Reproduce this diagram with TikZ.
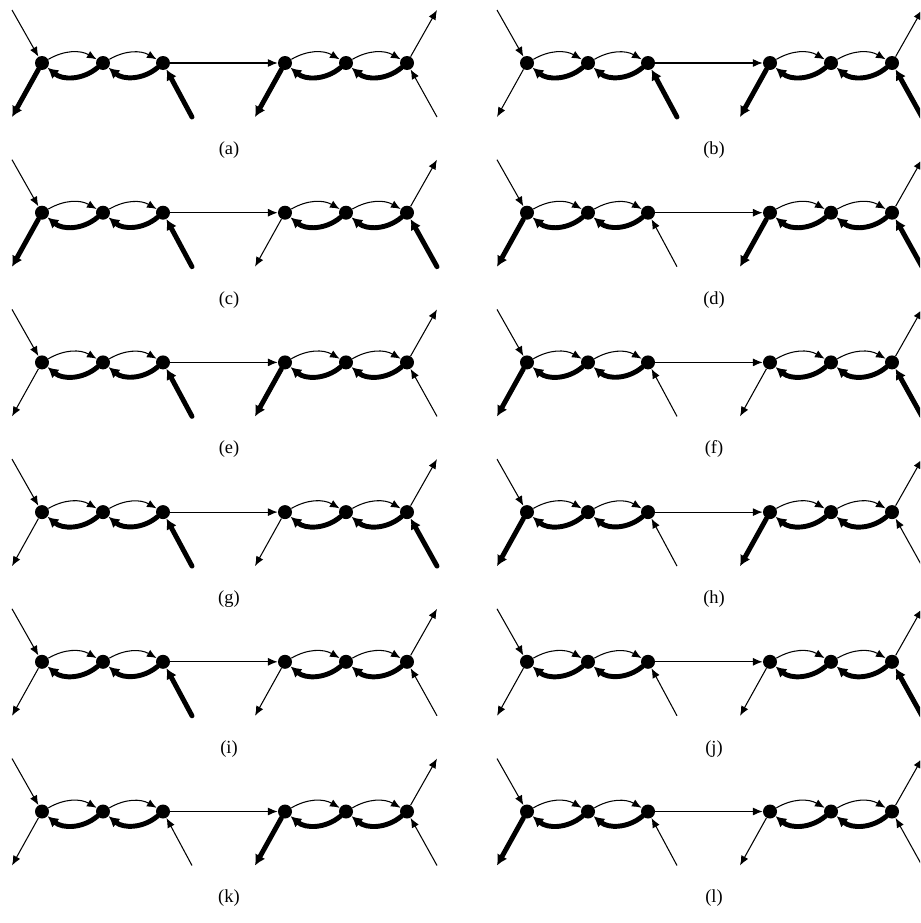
\documentclass[tikz,border=0pt]{standalone}
\usepackage{fontspec}
\setmainfont{Liberation Serif}
\usetikzlibrary{arrows.meta}
\tikzset{
  dot/.style={circle, fill, inner sep=0pt, minimum size=0.28cm},
  light/.style={line width=0.6pt, -{Latex[length=5.5pt,width=4.5pt]}},
  heavy/.style={line width=2.8pt, line cap=round, -{Latex[length=6pt,width=6.5pt]}}
}
\begin{document}
\begin{tikzpicture}[x=0.02cm, y=-0.02cm, font=\fontsize{10.5}{12}\selectfont]
  \useasboundingbox (0,0) rectangle (920,923);
  \clip (0,0) rectangle (920,923);
  % label/column/row/left out/left in/right out/right in
  \foreach \lab/\c/\r/\la/\lb/\ra/\rb in {
      a/0/0/heavy/heavy/heavy/light, b/1/0/light/heavy/heavy/heavy,
      c/0/1/heavy/heavy/light/heavy, d/1/1/heavy/light/heavy/heavy,
      e/0/2/light/heavy/heavy/light, f/1/2/heavy/light/light/heavy,
      g/0/3/light/heavy/light/heavy, h/1/3/heavy/light/heavy/light,
      i/0/4/light/heavy/light/light, j/1/4/light/light/light/heavy,
      k/0/5/light/light/heavy/light, l/1/5/heavy/light/light/light}{
    \begin{scope}[shift={(\c*485,\r*149.7)}]
      \node[dot] (\lab-l1) at (42,63) {};
      \node[dot] (\lab-l2) at (103,63) {};
      \node[dot] (\lab-l3) at (163,63) {};
      \node[dot] (\lab-r1) at (285,63) {};
      \node[dot] (\lab-r2) at (346,63) {};
      \node[dot] (\lab-r3) at (407,63) {};
      \coordinate (\lab-src) at (12,10);
      \coordinate (\lab-lo) at (12,117);
      \coordinate (\lab-li) at (192,117);
      \coordinate (\lab-ro) at (255,117);
      \coordinate (\lab-ri) at (437,117);
      \coordinate (\lab-snk) at (437,10);
      \node (\lab-cap) at (229,150) {(\lab)};
      % chains
      \draw[light] (\lab-l1) to[bend left=30] (\lab-l2);
      \draw[light] (\lab-l2) to[bend left=30] (\lab-l3);
      \draw[light] (\lab-r1) to[bend left=30] (\lab-r2);
      \draw[light] (\lab-r2) to[bend left=30] (\lab-r3);
      \draw[heavy] (\lab-l2) to[bend left=40] (\lab-l1);
      \draw[heavy] (\lab-l3) to[bend left=40] (\lab-l2);
      \draw[heavy] (\lab-r2) to[bend left=40] (\lab-r1);
      \draw[heavy] (\lab-r3) to[bend left=40] (\lab-r2);
      \draw[light] (\lab-l3) -- (\lab-r1);
      % ends
      \draw[light] (\lab-src) -- (\lab-l1);
      \draw[light] (\lab-r3) -- (\lab-snk);
      \draw[\la] (\lab-l1) -- (\lab-lo);
      \draw[\lb] (\lab-li) -- (\lab-l3);
      \draw[\ra] (\lab-r1) -- (\lab-ro);
      \draw[\rb] (\lab-ri) -- (\lab-r3);
    \end{scope}
  }
\end{tikzpicture}
\end{document}
